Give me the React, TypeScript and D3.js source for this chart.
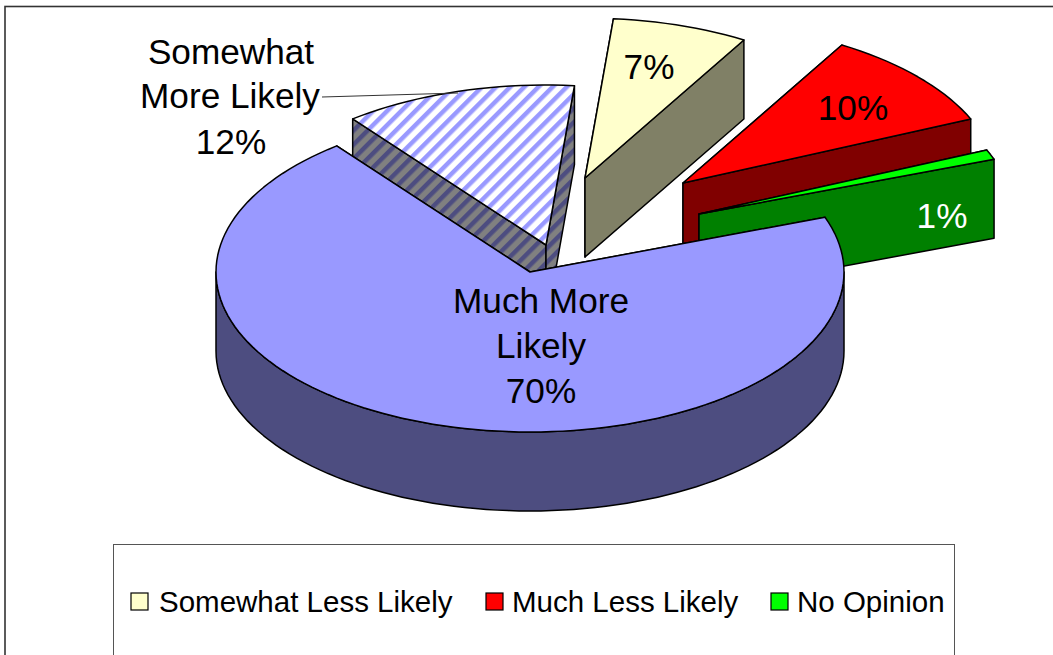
import * as d3 from 'd3'

const categories = ['Much More Likely', 'Somewhat More Likely', 'Somewhat Less Likely', 'Much Less Likely', 'No Opinion']
const values = [70, 12, 7, 10, 1]
const legendItems = ['Somewhat Less Likely', 'Much Less Likely', 'No Opinion']

const topColors = ['#9999ff', 'url(#hatchTop)', '#ffffcc', '#ff0000', '#00ff00']
const sideColors = ['#4d4d80', 'url(#hatchSide)', '#808066', '#800000', '#008000']
const legendColors = ['#ffffcc', '#ff0000', '#00ff00']

const width = 1053
const height = 655
const rx = 314
const ry = 160
const depth = 79
const center = { x: 530, y: 272 }
// how far each slice is pulled out of the pie, in px
const explode = [
  [0, 0],
  [16, -27],
  [55, -94],
  [153, -89],
  [169, -58],
]
const legendX = [131, 486, 771]
const legendTextX = [159, 512, 797]

const rad = (deg: number) => (deg * Math.PI) / 180

const pie = d3
  .pie<number>()
  .sort(null)
  .startAngle(rad(70))
  .endAngle(rad(430))

const line = d3.line<[number, number]>()

function rimPoints(a0: number, a1: number, cx: number, cy: number) {
  const n = Math.max(2, Math.ceil((a1 - a0) / rad(2)))
  const step = d3.scaleLinear().domain([0, n]).range([a0, a1])
  return d3.range(n + 1).map((i): [number, number] => {
    const a = step(i)
    return [cx + rx * Math.sin(a), cy - ry * Math.cos(a)]
  })
}

function Slice({ arc, index }: { arc: d3.PieArcDatum<number>; index: number }) {
  const cx = center.x + explode[index][0]
  const cy = center.y + explode[index][1]
  const top = rimPoints(arc.startAngle, arc.endAngle, cx, cy)
  const first = top[0]
  const last = top[top.length - 1]
  const walls = [first, last].map((p): [number, number][] => [
    [cx, cy],
    p,
    [p[0], p[1] + depth],
    [cx, cy + depth],
  ])
  // only the part of the rim facing the viewer gets a wall
  const frontA0 = Math.max(arc.startAngle, rad(90))
  const frontA1 = Math.min(arc.endAngle, rad(270))
  const front = frontA1 > frontA0 ? rimPoints(frontA0, frontA1, cx, cy) : null
  const stroke = { stroke: '#000', strokeWidth: 1.5, strokeLinejoin: 'round' as const }

  return (
    <g>
      {walls.map((w, i) => (
        <path key={i} d={line(w) + 'Z'} fill={sideColors[index]} {...stroke} />
      ))}
      {front && (
        <path
          d={
            line([
              ...front,
              ...front.map((p): [number, number] => [p[0], p[1] + depth]).reverse(),
            ]) + 'Z'
          }
          fill={sideColors[index]}
          {...stroke}
        />
      )}
      <path d={line([[cx, cy], ...top]) + 'Z'} fill={topColors[index]} {...stroke} />
    </g>
  )
}

export default function App() {
  const arcs = pie(values)
  const order = [1, 2, 3, 4, 0]
  const font = { fontFamily: '"Liberation Sans", Arial, sans-serif', fill: '#000' }

  return (
    <svg
      width={width}
      height={height}
      viewBox={`0 0 ${width} ${height}`}
      style={{ position: 'absolute', left: 0, top: 0, background: '#fff' }}
    >
      <defs>
        <pattern id="hatchTop" width={10} height={10} patternUnits="userSpaceOnUse" patternTransform="rotate(45)">
          <rect width={10} height={10} fill="#fff" />
          <rect width={4.5} height={10} fill="#9999ff" />
        </pattern>
        <pattern id="hatchSide" width={10} height={10} patternUnits="userSpaceOnUse" patternTransform="rotate(45)">
          <rect width={10} height={10} fill="#808080" />
          <rect width={4.5} height={10} fill="#4d4d80" />
        </pattern>
      </defs>

      {/* chart frame runs off the right and bottom of the picture */}
      <rect x={5} y={6.5} width={1100} height={700} fill="none" stroke="#333" strokeWidth={1.6} />

      {order.map((i) => (
        <Slice key={categories[i]} arc={arcs[i]} index={i} />
      ))}

      <line x1={322} y1={97} x2={458} y2={93} stroke="#333" strokeWidth={1} />

      <g {...font} fontSize={35.2} textAnchor="middle">
        <text x={231} y={64}>Somewhat</text>
        <text x={230} y={108}>More Likely</text>
        <text x={231} y={154}>{values[1]}%</text>
        <text x={649} y={79}>{values[2]}%</text>
        <text x={853} y={120}>{values[3]}%</text>
        <text x={942} y={228} fill="#fff">{values[4]}%</text>
        <text x={541} y={313}>Much More</text>
        <text x={541} y={358}>Likely</text>
        <text x={541} y={403}>{values[0]}%</text>
      </g>

      <rect x={113.5} y={544.5} width={841} height={140} fill="#fff" stroke="#555" strokeWidth={1} />
      {legendItems.map((label, i) => (
        <g key={label}>
          <rect x={legendX[i]} y={593} width={17} height={17} fill={legendColors[i]} stroke="#000" strokeWidth={1.2} />
          <text x={legendTextX[i]} y={612} {...font} fontSize={29.5}>{label}</text>
        </g>
      ))}
    </svg>
  )
}
